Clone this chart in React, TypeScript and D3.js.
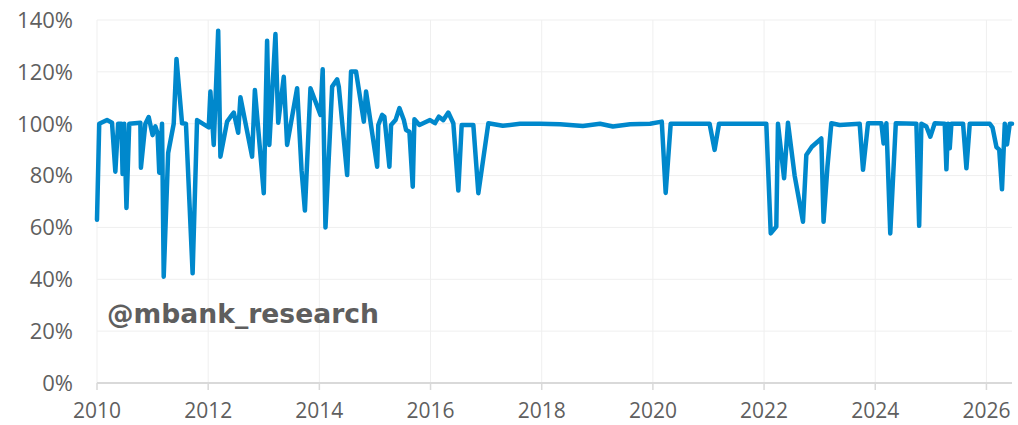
import React from "react";
import * as d3 from "d3";

// time in decimal years, value in percent
const years: number[] = [
  2010.0, 2010.04, 2010.18, 2010.27, 2010.33, 2010.38, 2010.44, 2010.46, 2010.49, 2010.53,
  2010.58, 2010.78, 2010.79, 2010.87, 2010.93, 2011.0, 2011.05, 2011.09, 2011.12, 2011.17,
  2011.2, 2011.28, 2011.38, 2011.43, 2011.53, 2011.6, 2011.72, 2011.8, 2012.01, 2012.04,
  2012.1, 2012.18, 2012.22, 2012.34, 2012.4, 2012.46, 2012.54, 2012.58, 2012.79, 2012.84,
  2013.0, 2013.06, 2013.1, 2013.21, 2013.26, 2013.36, 2013.42, 2013.6, 2013.68, 2013.74,
  2013.84, 2014.02, 2014.06, 2014.11, 2014.23, 2014.32, 2014.35, 2014.5, 2014.57, 2014.66,
  2014.8, 2014.84, 2015.04, 2015.06, 2015.13, 2015.17, 2015.26, 2015.29, 2015.37, 2015.44,
  2015.52, 2015.56, 2015.62, 2015.68, 2015.71, 2015.8, 2015.99, 2016.08, 2016.15, 2016.23,
  2016.32, 2016.41, 2016.5, 2016.56, 2016.77, 2016.86, 2017.04, 2017.3, 2017.61, 2017.97,
  2018.33, 2018.74, 2019.05, 2019.28, 2019.59, 2019.95, 2020.16, 2020.23, 2020.32, 2021.02,
  2021.11, 2021.19, 2022.04, 2022.12, 2022.22, 2022.25, 2022.36, 2022.43, 2022.55, 2022.7,
  2022.76, 2022.86, 2023.03, 2023.07, 2023.14, 2023.21, 2023.36, 2023.72, 2023.78, 2023.87,
  2024.11, 2024.15, 2024.2, 2024.27, 2024.37, 2024.74, 2024.79, 2024.83, 2024.92, 2024.99,
  2025.07, 2025.25, 2025.28, 2025.31, 2025.34, 2025.37, 2025.58, 2025.64, 2025.7, 2026.06,
  2026.11, 2026.18, 2026.23, 2026.28, 2026.33, 2026.37, 2026.42, 2026.46,
];

const values: number[] = [
  63, 100, 101.4, 100.4, 81.5, 100, 100, 80.6, 100, 67.5,
  100, 100.4, 83, 100, 102.6, 95.6, 99, 96.3, 81.1, 100,
  41, 88.7, 100, 125, 100.2, 100, 42.3, 101.4, 98.6, 112.4,
  91.8, 135.9, 87.3, 100.8, 102.6, 104.3, 96.5, 110.2, 87.3, 113,
  73.2, 132, 91.8, 134.6, 100.4, 118.1, 91.8, 113.7, 82, 66.5,
  113.7, 103.4, 121, 60, 114.3, 117.1, 114.3, 80.2, 120.1, 120.1,
  100.8, 112.4, 83.4, 99.5, 103.4, 102.7, 83.4, 99.5, 101.4, 106,
  101.4, 97.6, 96.9, 75.7, 101.7, 99.5, 101.4, 100.2, 102.7, 101.4,
  104.3, 100.2, 74.2, 99.5, 99.5, 73.2, 100.2, 99.2, 100, 100,
  99.8, 99.1, 100, 98.9, 99.8, 100, 100.8, 73.3, 100, 100,
  89.9, 100, 100, 57.7, 60.3, 100, 79, 100.4, 80, 62.2,
  87.9, 91.1, 94.3, 62.2, 83.4, 100.2, 99.5, 100, 82.2, 100.2,
  100.2, 92.4, 100.2, 57.7, 100.2, 100, 60.6, 100, 98.9, 95,
  100.2, 100, 82.4, 100, 90.5, 100, 100, 82.8, 100, 100,
  98.5, 91, 90, 74.7, 100, 92, 100, 100,
];

const xTicks: number[] = [2010, 2012, 2014, 2016, 2018, 2020, 2022, 2024, 2026];
const yTicks: number[] = [0, 20, 40, 60, 80, 100, 120, 140];
const watermark = "@mbank_research";

const W = 1018;
const H = 425;
const M = { left: 97, right: 1012, top: 20, bottom: 383 };

export default function App() {
  const x = d3.scaleLinear().domain([2010, 2026.46]).range([M.left, M.right]);
  const y = d3.scaleLinear().domain([0, 140]).range([M.bottom, M.top]);
  const data = years.map((t, i) => ({ t, v: values[i] }));
  const line = d3
    .line<{ t: number; v: number }>()
    .x((d) => x(d.t))
    .y((d) => y(d.v));
  const textColor = "#5f5f5f";
  const font = "'Open Sans', 'DejaVu Sans', sans-serif";

  return (
    <svg
      width={W}
      height={H}
      style={{ position: "absolute", left: 0, top: 0, background: "#fff" }}
    >
      {yTicks.map((v) => (
        <line
          key={"hg" + v}
          x1={M.left}
          x2={M.right}
          y1={y(v)}
          y2={y(v)}
          stroke="#efefef"
          strokeWidth={1}
        />
      ))}
      {xTicks.map((t) => (
        <line
          key={"vg" + t}
          x1={x(t)}
          x2={x(t)}
          y1={M.top}
          y2={M.bottom}
          stroke="#efefef"
          strokeWidth={1}
        />
      ))}
      {yTicks.map((v) => (
        <text
          key={"yl" + v}
          x={73}
          y={y(v)}
          dy="0.36em"
          textAnchor="end"
          fontFamily={font}
          fontSize={22}
          fill={textColor}
        >
          {v + "%"}
        </text>
      ))}
      <text
        x={107}
        y={323}
        fontFamily="'DejaVu Sans', sans-serif"
        fontWeight="bold"
        fontSize={26.6}
        fill="#5e5e5e"
      >
        {watermark}
      </text>
      <line
        x1={M.left}
        x2={M.right}
        y1={M.bottom}
        y2={M.bottom}
        stroke="#d9d9d9"
        strokeWidth={2}
      />
      {xTicks.map((t) => (
        <g key={"xt" + t}>
          <line
            x1={x(t)}
            x2={x(t)}
            y1={M.bottom}
            y2={M.bottom + 7}
            stroke="#d9d9d9"
            strokeWidth={1.5}
          />
          <text
            x={x(t)}
            y={418}
            textAnchor="middle"
            fontFamily={font}
            fontSize={21}
            fill={textColor}
          >
            {String(t)}
          </text>
        </g>
      ))}
      <path
        d={line(data) || ""}
        fill="none"
        stroke="#0088cc"
        strokeWidth={4.5}
        strokeLinejoin="round"
        strokeLinecap="round"
      />
    </svg>
  );
}
